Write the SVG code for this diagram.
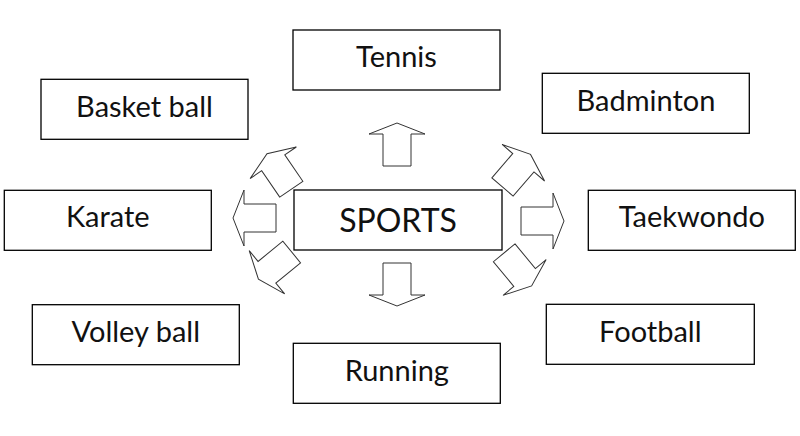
<svg xmlns="http://www.w3.org/2000/svg" width="800" height="436" viewBox="0 0 800 436">
<style>
.box{fill:#fff;stroke:#000;stroke-width:1.3}
.lbl{font-family:Lato,"Open Sans",sans-serif;font-size:29px;fill:#111;text-anchor:middle}
.big{font-size:32px}
.arr{fill:#fff;stroke:#333;stroke-width:1}
</style>
<defs>
<polygon id="blk" points="-14,0 -14,-32 -28,-32 0,-43 28,-32 14,-32 14,0"/>
</defs>
<rect width="800" height="436" fill="#fff"/>
<g id="connectors" class="arr">
<use href="#blk" transform="translate(397,166)"/>
<use href="#blk" transform="translate(397,263) rotate(180)"/>
<use href="#blk" transform="translate(276,218) rotate(-90)"/>
<use href="#blk" transform="translate(521,221) rotate(90)"/>
<use href="#blk" transform="translate(291.3,189.2) rotate(-34.4)"/>
<use href="#blk" transform="translate(502.5,187) rotate(40.7)"/>
<use href="#blk" transform="translate(291.7,252) rotate(-129.3)"/>
<use href="#blk" transform="translate(504.2,252.8) rotate(140.4)"/>
</g>
<g id="sports"><rect class="box" x="294" y="190" width="208" height="60"/><text class="lbl big" x="398" y="231.7">SPORTS</text></g>
<g id="tennis"><rect class="box" x="293" y="30" width="207" height="60"/><text class="lbl" x="396.5" y="67">Tennis</text></g>
<g id="basketball"><rect class="box" x="41" y="79.3" width="207" height="60"/><text class="lbl" x="144.5" y="116.5">Basket ball</text></g>
<g id="badminton"><rect class="box" x="542.3" y="73.3" width="207" height="60"/><text class="lbl" x="646" y="110.7">Badminton</text></g>
<g id="karate"><rect class="box" x="4.3" y="190.3" width="207" height="60"/><text class="lbl" x="107.8" y="227">Karate</text></g>
<g id="taekwondo"><rect class="box" x="588.3" y="190.3" width="207" height="60"/><text class="lbl" x="691.8" y="227">Taekwondo</text></g>
<g id="volleyball"><rect class="box" x="32.3" y="304.7" width="207" height="60"/><text class="lbl" x="135.8" y="342.3">Volley ball</text></g>
<g id="football"><rect class="box" x="546.3" y="304.3" width="208" height="60"/><text class="lbl" x="650.3" y="342.3">Football</text></g>
<g id="running"><rect class="box" x="293.3" y="343.3" width="207" height="60"/><text class="lbl" x="396.8" y="380.7">Running</text></g>
</svg>
